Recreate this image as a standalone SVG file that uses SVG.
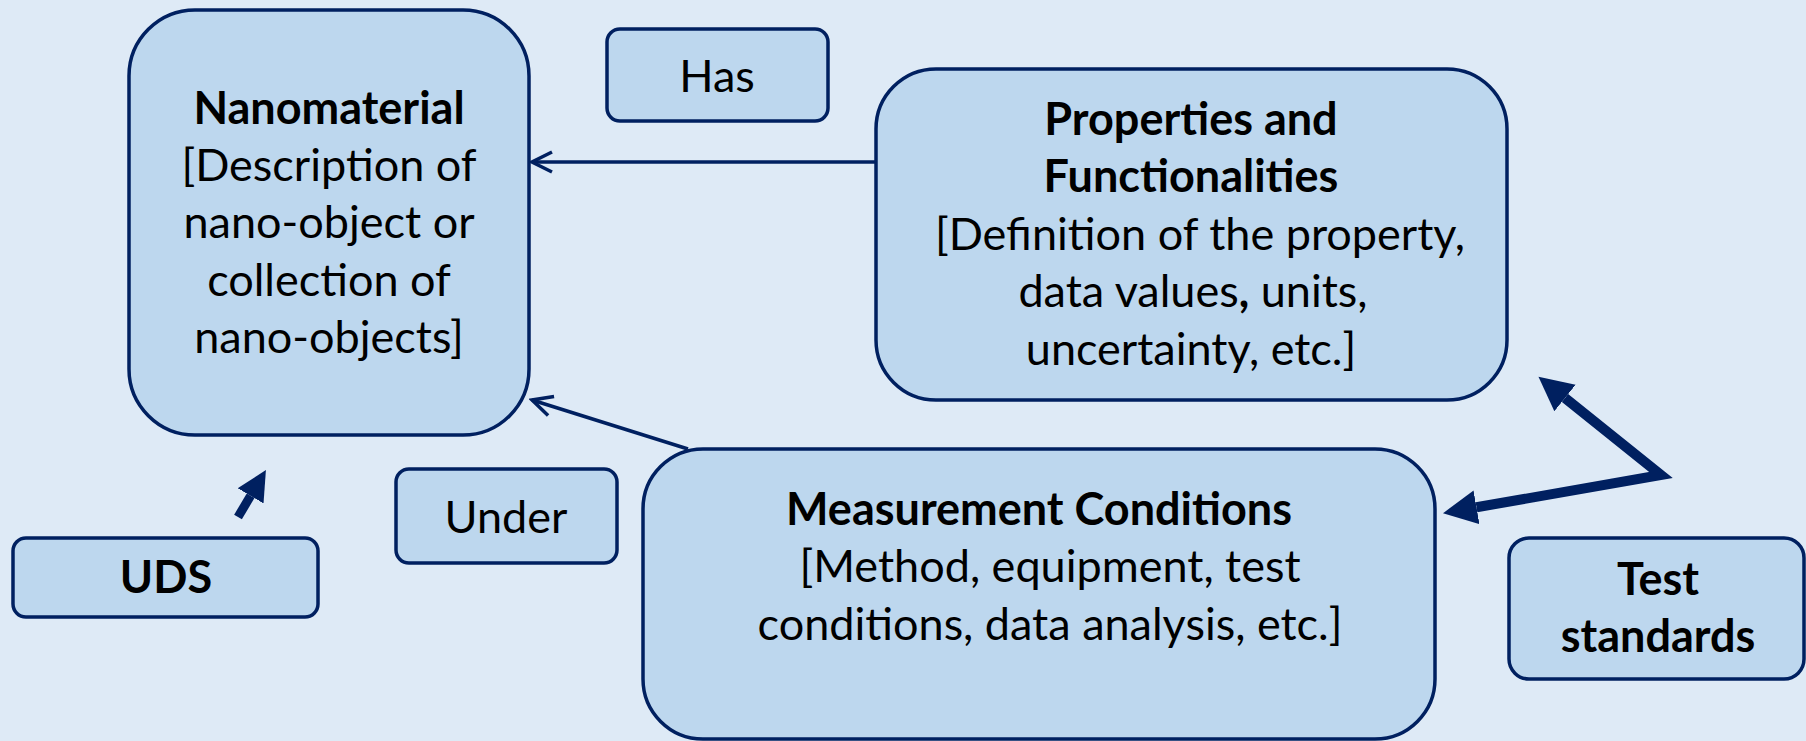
<svg xmlns="http://www.w3.org/2000/svg" width="1806" height="741" viewBox="0 0 1806 741">
  <defs>
    <style>
      .box { fill: #BDD7EE; stroke: #002060; stroke-width: 3.5; }
      .txt { font-family: Lato, "Liberation Sans", sans-serif; font-size: 45px; fill: #000; text-anchor: middle; }
      .b { font-weight: bold; }
      .thin { fill: none; stroke: #002060; stroke-width: 3.5; }
      .thick { fill: none; stroke: #002060; stroke-width: 10; stroke-linejoin: miter; }
    </style>
    <!-- open chevron head for the thin relation arrows -->
    <marker id="open" markerUnits="userSpaceOnUse" viewBox="-24 -13 27 26" refX="0" refY="0" markerWidth="27" markerHeight="26" orient="auto">
      <path d="M-20,-10 L0,0 L-20,10" fill="none" stroke="#002060" stroke-width="3.5"/>
    </marker>
    <!-- solid head, anchored at its base -->
    <marker id="solid" markerUnits="userSpaceOnUse" viewBox="0 -18 36 36" refX="0" refY="0" markerWidth="36" markerHeight="36" orient="auto-start-reverse">
      <path d="M0,-17 L34,0 L0,17 Z" fill="#002060"/>
    </marker>
    <marker id="solidSmall" markerUnits="userSpaceOnUse" viewBox="0 -16 32 32" refX="0" refY="0" markerWidth="32" markerHeight="32" orient="auto">
      <path d="M0,-15 L30,0 L0,15 Z" fill="#002060"/>
    </marker>
  </defs>

  <rect width="1806" height="741" fill="#DEEAF6"/>

  <g id="connectors">
    <line class="thin" x1="876" y1="162" x2="532" y2="162" marker-end="url(#open)"/>
    <line class="thin" x1="688" y1="449" x2="532" y2="400" marker-end="url(#open)"/>
    <line x1="238" y1="517" x2="250.6" y2="495.8" stroke="#002060" stroke-width="9" marker-end="url(#solidSmall)"/>
    <path class="thick" d="M1476.5,507.3 L1661,475 L1565,398" marker-start="url(#solid)" marker-end="url(#solid)"/>
  </g>

  <g id="nanomaterial">
    <rect class="box" x="129" y="10" width="400" height="425" rx="66" ry="66"/>
    <text class="txt b" x="329" y="124">Nanomaterial</text>
    <text class="txt" x="329" y="181">[Description of</text>
    <text class="txt" x="329" y="238">nano-object or</text>
    <text class="txt" x="329" y="296">collection of</text>
    <text class="txt" x="329" y="353">nano-objects]</text>
  </g>

  <g id="has">
    <rect class="box" x="607" y="29" width="221" height="92" rx="13" ry="13"/>
    <text class="txt" x="717" y="92">Has</text>
  </g>

  <g id="properties">
    <rect class="box" x="876" y="69" width="631" height="331" rx="60" ry="60"/>
    <text class="txt b" x="1191" y="135">Properties and</text>
    <text class="txt b" x="1191" y="192">Functionalities</text>
    <text class="txt" x="1200" y="250">[Definition of the property,</text>
    <text class="txt" x="1193" y="307">data values<tspan class="b">,</tspan> units,</text>
    <text class="txt" x="1191" y="365">uncertainty, etc.]</text>
  </g>

  <g id="measurement">
    <rect class="box" x="643" y="449" width="792" height="290" rx="60" ry="60"/>
    <text class="txt b" x="1039" y="525">Measurement Conditions</text>
    <text class="txt" x="1050" y="582">[Method, equipment, test</text>
    <text class="txt" x="1050" y="640">conditions, data analysis, etc.]</text>
  </g>

  <g id="uds">
    <rect class="box" x="13" y="538" width="305" height="79" rx="13" ry="13"/>
    <text class="txt b" x="166" y="593">UDS</text>
  </g>

  <g id="under">
    <rect class="box" x="396" y="469" width="221" height="94" rx="13" ry="13"/>
    <text class="txt" x="506" y="533">Under</text>
  </g>

  <g id="test-standards">
    <rect class="box" x="1509" y="538" width="295" height="141" rx="20" ry="20"/>
    <text class="txt b" x="1658" y="595">Test</text>
    <text class="txt b" x="1658" y="652">standards</text>
  </g>
</svg>
